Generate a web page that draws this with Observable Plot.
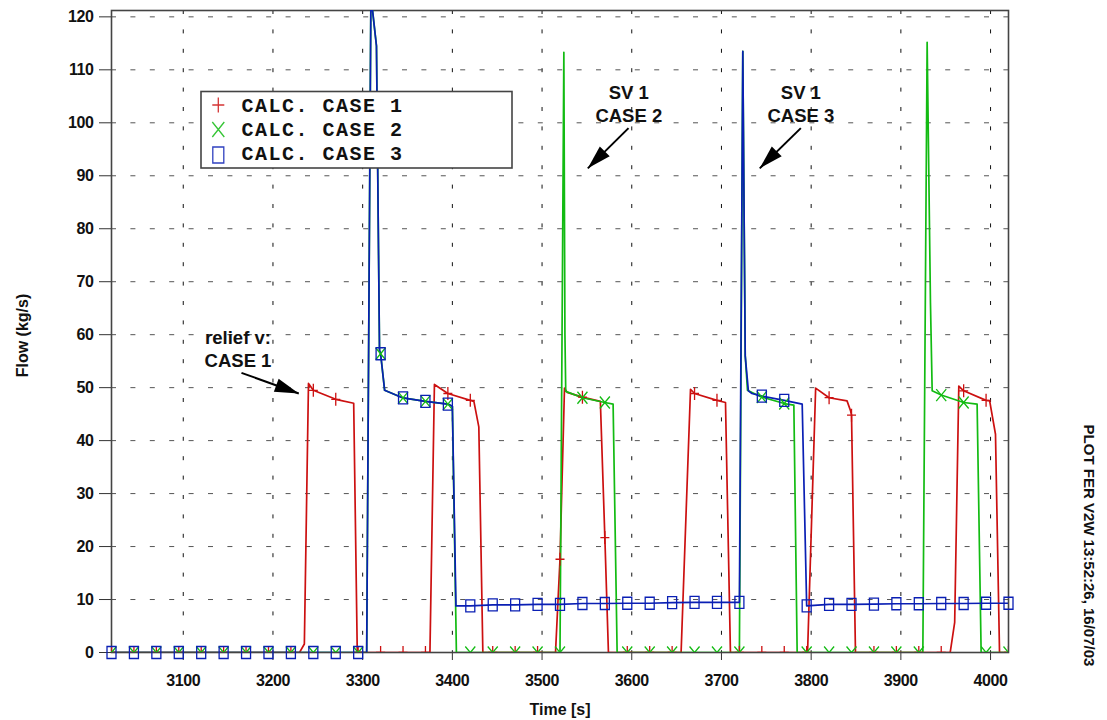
<!DOCTYPE html>
<html><head><meta charset="utf-8">
<script src="https://cdn.jsdelivr.net/npm/d3@7"></script>
<script src="https://cdn.jsdelivr.net/npm/@observablehq/plot@0.6"></script>
<style>
body{margin:0;background:#fff;overflow:hidden}
#chart svg{display:block}
.chart g[aria-label="x-axis tick label"] text,.chart g[aria-label="y-axis tick label"] text{letter-spacing:-0.4px}
</style></head><body><div id="chart"></div>
<script>
// ---- data (time in s, flow in kg/s) ----
const case1T = [3020,3045,3070,3095,3120,3145,3170,3195,3220,3229.6,3235,3239.6,3245,3270,3290,3294,3295,3320,3345,3370,3375,3380,3395,3420,3424,3429.5,3434,3445,3470,3495,3515,3520,3525,3528,3545,3565,3570,3574,3595,3620,3645,3655,3665.5,3670,3695,3704.5,3710,3720,3745,3770,3795,3796,3805,3820,3840,3844,3845,3849.4,3870,3895,3920,3945,3955,3960,3964.6,3970,3995,3999,4005.5,4010,4020];
const case1V = [0,0,0,0,0,0,0,0,0,0,1.6,50.8,49.5,47.8,47.05,0,0,0,0,0,0,50.6,48.9,47.6,47.4,42.6,0,0,0,0,0,17.6,49.9,49.1,48.2,47.4,21.7,0,0,0,0,0,49.7,48.9,47.6,47.2,0,0,0,0,0,0,49.9,48.1,47.5,45.6,44.8,0,0,0,0,0,0,5.7,50.3,49.4,47.6,47.5,41.2,0,0];

const case2T = [3020,3045,3070,3095,3120,3145,3170,3195,3220,3245,3270,3295,3304.5,3309.2,3315.4,3318.8,3320,3324.5,3345,3370,3395,3400,3404.5,3420,3445,3470,3495,3520,3524.3,3525.5,3526.4,3545,3570,3579.2,3583.7,3595,3620,3645,3670,3695,3720,3723.8,3726.5,3729,3745,3770,3780.7,3784.4,3795,3820,3845,3870,3895,3920,3924.5,3929.3,3933,3934.9,3945,3970,3985,3989.5,3995,4020];
const case2V = [0,0,0,0,0,0,0,0,0,0,0,0,0,124,114.5,57,56.4,49.5,48.06,47.4,46.9,46.5,0,0,0,0,0,0,113.3,60,49.3,48.1,47.2,46.9,0,0,0,0,0,0,0,113.5,56,49.5,48.2,47.0,46.7,0,0,0,0,0,0,0,0,115.2,66,49.4,48.6,47.2,46.9,0,0,0];

const case3T = [3020,3045,3070,3095,3120,3145,3170,3195,3220,3245,3270,3295,3304.5,3309.2,3315.4,3318.8,3320,3324.5,3345,3370,3395,3400,3404,3420,3445,3470,3495,3520,3545,3570,3595,3620,3645,3670,3695,3720,3723.8,3726.5,3730,3734,3745,3770,3790,3795,3820,3845,3870,3895,3920,3945,3970,3995,4020];
const case3V = [0,0,0,0,0,0,0,0,0,0,0,0,0,124,114.5,57,56.4,49.5,48.06,47.4,46.9,46.5,8.8,8.8,9.0,9.0,9.1,9.1,9.25,9.25,9.3,9.3,9.4,9.45,9.45,9.45,113.5,56,49.4,48.9,48.4,47.6,46.9,8.8,9.1,9.1,9.15,9.2,9.2,9.25,9.25,9.3,9.3];

const seriesNames = ["CALC. CASE 1","CALC. CASE 2","CALC. CASE 3"];
const seriesColors = ["#cc1010","#12bb12","#0a1fb4"];
const xTicks = [3100,3200,3300,3400,3500,3600,3700,3800,3900,4000];
const yTicks = [0,10,20,30,40,50,60,70,80,90,100,110,120];

const annotText = [
  {x: 3161, y: 57.4, text: "relief v:\nCASE 1"},
  {x: 3596.7, y: 103.7, text: "SV 1\nCASE 2"},
  {x: 3788.5, y: 103.7, text: "SV 1\nCASE 3"}
];
const annotArrows = [
  {x1: 3164.9, y1: 52.8, x2: 3228.8, y2: 48.9, angle: 110},
  {x1: 3596.4, y1: 99.0, x2: 3551.0, y2: 91.4, angle: 225},
  {x1: 3788.5, y1: 99.0, x2: 3742.7, y2: 91.4, angle: 225}
];

// ---- build table ----
function rows(T, V, k) { return T.map((t, i) => ({t, v: V[i], k})); }
const d1 = rows(case1T, case1V, 0), d2 = rows(case2T, case2V, 1), d3s = rows(case3T, case3V, 2);
const isMark = d => (d.t - 3020) % 25 === 0;

const plusSym = {draw(c){ c.moveTo(-4.5,0); c.lineTo(4.5,0); c.moveTo(0,-6.5); c.lineTo(0,6.5); }};
const xSym = {draw(c){ c.moveTo(-5,-6); c.lineTo(5,6); c.moveTo(5,-6); c.lineTo(-5,6); }};
const sqSym = {draw(c){ c.moveTo(-4.5,-6); c.lineTo(4.5,-6); c.lineTo(4.5,6); c.lineTo(-4.5,6); c.closePath(); }};
const headSym = {draw(c){ c.moveTo(0,0); c.lineTo(-7,24); c.lineTo(7,24); c.closePath(); }};

const lineOpts = (i) => ({x: "t", y: "v", stroke: seriesColors[i], strokeWidth: 1.7, clip: true, curve: "linear"});
const dotOpts = (i, sym, clip) => ({x: "t", y: "v", symbol: sym, stroke: seriesColors[i], fill: "none", strokeWidth: 1.3, r: 5, clip});

const plot = Plot.plot({
  width: 1107, height: 720,
  marginLeft: 111, marginRight: 99, marginTop: 10, marginBottom: 68,
  className: "chart",
  style: {fontFamily: "'Liberation Sans', Arial, sans-serif", fontWeight: "bold", fontSize: "16px", background: "#fff", color: "#111"},
  x: {domain: [3020, 4020]},
  y: {domain: [0, 121.2]},
  marks: [
    Plot.gridX({ticks: xTicks, stroke: "#111", strokeOpacity: 1, strokeDasharray: "4,15.4"}),
    Plot.gridY({ticks: yTicks.filter(v => v > 0), stroke: "#555", strokeOpacity: 1, strokeDasharray: "5,14.4"}),
    Plot.axisX({ticks: xTicks, tickSize: 8, tickPadding: 14, tickFormat: d => String(d), label: null, stroke: "#333", fontSize: 16}),
    Plot.axisY({ticks: yTicks, tickSize: 12, tickPadding: 6, tickFormat: d => String(d), label: null, stroke: "#333", fontSize: 16}),
    Plot.frame({stroke: "#444", strokeWidth: 1.6}),
    Plot.line(d1, lineOpts(0)),
    Plot.line(d2, lineOpts(1)),
    Plot.line(d3s, lineOpts(2)),
    Plot.dot(d1.filter(isMark), dotOpts(0, plusSym, true)),
    Plot.dot(d2.filter(isMark), dotOpts(1, xSym, true)),
    Plot.dot(d3s.filter(isMark), dotOpts(2, sqSym, false)),
    Plot.text(annotText, {x: "x", y: "y", text: "text", lineAnchor: "middle", lineHeight: 1.24, fontSize: 18.5, fontWeight: "bold", fill: "#111"}),
    Plot.link(annotArrows, {x1: "x1", y1: "y1", x2: "x2", y2: "y2", stroke: "#000", strokeWidth: 2}),
    Plot.dot(annotArrows, {x: "x2", y: "y2", rotate: "angle", symbol: headSym, fill: "#000", stroke: "none", r: 5}),
    Plot.text(["Time [s]"], {frameAnchor: "bottom", dy: 62, fontSize: 16, fontWeight: "bold", fill: "#111"}),
    Plot.text(["Flow (kg/s)"], {frameAnchor: "left", textAnchor: "middle", dx: -89, dy: 4, rotate: -90, fontSize: 16, fontWeight: "bold", fill: "#111"}),
    Plot.text(["PLOT FER V2W 13:52:26, 16/07/03"], {frameAnchor: "right", textAnchor: "middle", dx: 80, dy: 214, rotate: 90, fontSize: 15, fontWeight: "bold", fill: "#111"})
  ]
});

// ---- legend ----
const svg = d3.select(plot);
const lg = svg.append("g").attr("class", "legend").attr("text-anchor", "start");
lg.append("rect").attr("x", 201).attr("y", 91.5).attr("width", 311).attr("height", 76.5)
  .attr("fill", "#fff").attr("stroke", "#444").attr("stroke-width", 1.6);
const legSyms = [
  c => { c.moveTo(-6,0); c.lineTo(6,0); c.moveTo(0,-7.5); c.lineTo(0,7.5); },
  c => { c.moveTo(-6,-7.5); c.lineTo(6,7.5); c.moveTo(6,-7.5); c.lineTo(-6,7.5); },
  c => { c.moveTo(-5.5,-8); c.lineTo(5.5,-8); c.lineTo(5.5,8); c.lineTo(-5.5,8); c.closePath(); }
];
const legMarkY = [105, 129.5, 155];
const legTextY = [111.7, 135.5, 160];
seriesNames.forEach((name, i) => {
  const p = d3.path(); legSyms[i](p);
  lg.append("path").attr("d", p.toString()).attr("transform", `translate(218.3,${legMarkY[i]})`)
    .attr("fill", "none").attr("stroke", seriesColors[i]).attr("stroke-width", 1.3).attr("opacity", 0.85);
  lg.append("text").attr("x", 241.5).attr("y", legTextY[i]).text(name)
    .attr("text-anchor", "start")
    .attr("font-family", "'Liberation Mono', 'Courier New', monospace").attr("font-weight", "bold")
    .attr("font-size", 20).attr("letter-spacing", "1.5px").attr("fill", "#111");
});

document.getElementById("chart").appendChild(plot);
</script></body></html>
